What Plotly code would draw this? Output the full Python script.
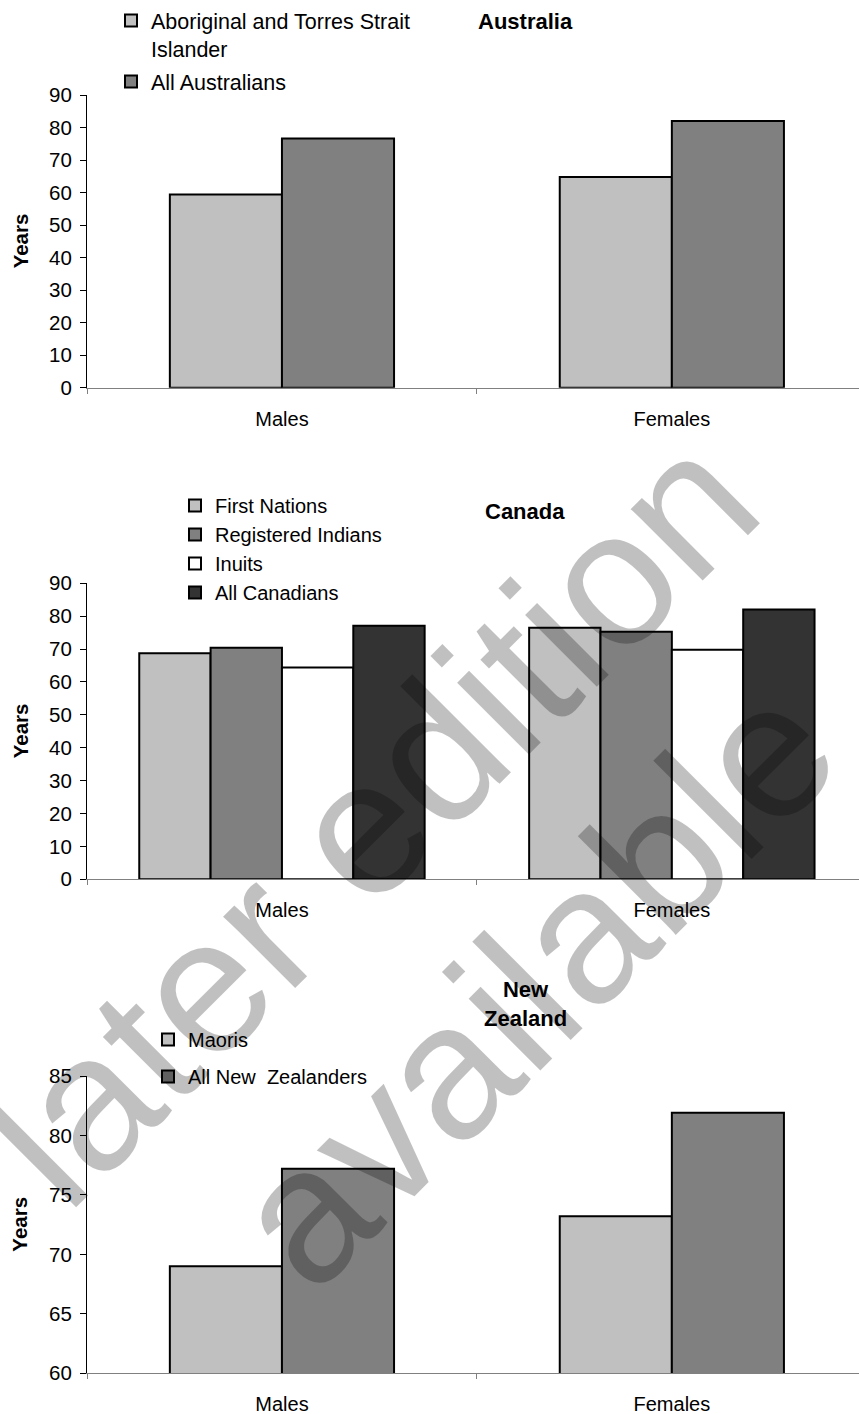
import plotly.graph_objects as go

# ---- data -------------------------------------------------------------
categories = ["Males", "Females"]

aus_names = ["Aboriginal and Torres Strait<br>Islander", "All Australians"]
aus_indigenous = [59.4, 64.8]
aus_all = [76.6, 82.0]

can_names = ["First Nations", "Registered Indians", "Inuits", "All Canadians"]
can_first_nations = [68.7, 76.5]
can_registered = [70.4, 75.3]
can_inuits = [64.4, 69.8]
can_all = [77.1, 82.0]

nz_names = ["Maoris", "All New\u00a0 Zealanders"]
nz_maori = [69.0, 73.2]
nz_all = [77.2, 81.9]

# ---- page geometry (pixels) --------------------------------------------
W, H = 859, 1414
FONT = "Liberation Sans"
LIGHT, MID, WHITE, DARK = "#C0C0C0", "#808080", "#FFFFFF", "#333333"


def px_x(x):
    return x / W


def px_y(y):
    return 1 - y / H


fig = go.Figure()


def add_bars(names, values, colors, width, axis_id, legend_id):
    n = len(values)
    start = -width * n / 2
    for i, (name, vals, col) in enumerate(zip(names, values, colors)):
        fig.add_trace(go.Bar(
            x=categories, y=vals, name=name,
            width=width, offset=start + i * width,
            marker=dict(color=col, line=dict(color="black", width=2)),
            xaxis="x" + axis_id, yaxis="y" + axis_id,
            legend=legend_id, legendgroup=legend_id + str(i),
            hoverinfo="x+y+name",
        ))


add_bars(aus_names, [aus_indigenous, aus_all], [LIGHT, MID], 0.2875, "", "legend")
add_bars(can_names, [can_first_nations, can_registered, can_inuits, can_all],
         [LIGHT, MID, WHITE, DARK], 0.183, "2", "legend2")
add_bars(nz_names, [nz_maori, nz_all], [LIGHT, MID], 0.2875, "3", "legend3")

# plot areas: (top, bottom) in pixels, y range, tick step
panels = [
    ("", (95, 387.7), [0, 90], 10),
    ("2", (583.3, 879.3), [0, 90], 10),
    ("3", (1076, 1373.3), [60, 85], 5),
]

layout_axes = {}
for aid, (top, bot), yr, dt in panels:
    layout_axes["xaxis" + aid] = dict(
        domain=[px_x(87), 1], range=[-0.5, 1.48], type="category",
        anchor="y" + aid, tickson="boundaries", ticks="outside", ticklen=5,
        tickcolor="#808080", showline=True, linecolor="#808080", linewidth=1,
        showgrid=False, zeroline=False, ticklabelstandoff=13,
        tickfont=dict(family=FONT, size=20, color="black"),
    )
    layout_axes["yaxis" + aid] = dict(
        domain=[px_y(bot), px_y(top)], range=yr, dtick=dt, anchor="x" + aid,
        ticks="outside", ticklen=6, tickcolor="black", showline=True,
        linecolor="black", linewidth=1, showgrid=False, zeroline=False,
        ticklabelstandoff=4,
        tickfont=dict(family=FONT, size=20.5, color="black"),
    )


def legend_style(size, gap, x, y):
    return dict(font=dict(family=FONT, size=size, color="black"),
                bgcolor="rgba(0,0,0,0)", xanchor="left", yanchor="top",
                valign="top", traceorder="grouped", tracegroupgap=gap,
                x=px_x(x), y=px_y(y))


def label(text, x, y, size, angle=0, color="black"):
    return dict(text=text, x=px_x(x), y=px_y(y), xref="paper", yref="paper",
                xanchor="center", yanchor="middle", showarrow=False,
                textangle=angle, font=dict(family=FONT, size=size, color=color))


annotations = []
# panel titles
for text, y in [("Australia", 21), ("Canada", 511), ("New<br>Zealand", 1004)]:
    annotations.append(label("<b>%s</b>" % text, 525, y, 22))
# y axis titles
for top, bot in [p[1] for p in panels]:
    annotations.append(label("<b>Years</b>", 20, (top + bot) / 2, 20.5, angle=-90))
# diagonal stamp across the page
stamp = "rgba(0,0,0,0.247)"
annotations.append(label("later edition", 371, 819, 192, angle=-45, color=stamp))
annotations.append(label("available", 533, 983, 192, angle=-45, color=stamp))

fig.update_layout(
    width=W, height=H,
    margin=dict(l=0, r=0, t=0, b=0, autoexpand=False),
    paper_bgcolor="white", plot_bgcolor="white",
    barmode="overlay", showlegend=True,
    legend=legend_style(21.5, 2, 111, 0),
    legend2=legend_style(20, 0, 175, 486),
    legend3=legend_style(20, 8, 148, 1020),
    annotations=annotations,
    **layout_axes,
)

fig.write_html("out.html")
